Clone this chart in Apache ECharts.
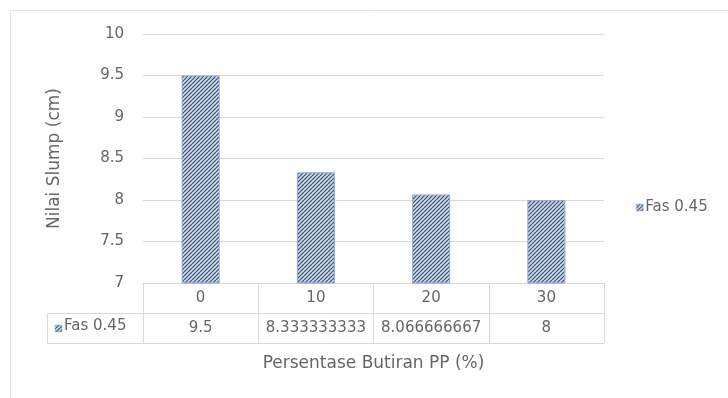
<!DOCTYPE html>
<html>
<head>
<meta charset="utf-8">
<script src="https://cdn.jsdelivr.net/npm/echarts@6/dist/echarts.min.js"></script>
<style>
  html, body { margin: 0; padding: 0; background: #ffffff; }
  #chart { width: 728px; height: 398px; }
</style>
</head>
<body>
<div id="chart"></div>
<script>
// ---- data ----
const categories = ['0', '10', '20', '30'];
const seriesName = 'Fas 0.45';
const slumpValues = [9.5, 8.333333333, 8.066666667, 8];
const yMin = 7, yMax = 10, yStep = 0.5;
const xTitle = 'Persentase Butiran PP (%)';
const yTitle = 'Nilai Slump (cm)';

// ---- hatch pattern ----
function makeHatch() {
  const c = document.createElement('canvas');
  c.width = 4; c.height = 4;
  const g = c.getContext('2d');
  g.fillStyle = '#c8d3e3';
  g.fillRect(0, 0, 4, 4);
  g.strokeStyle = '#3d5274';
  g.lineWidth = 1.15;
  for (let i = -1; i <= 1; i++) {
    g.beginPath();
    g.moveTo(i * 4, 4);
    g.lineTo(i * 4 + 4, 0);
    g.stroke();
  }
  return c;
}
const hatch = { image: makeHatch(), repeat: 'repeat' };

const FONT = 'DejaVu Sans';
const TXT = '#666666';
const LINE = '#d9d9d9';

const gridL = 143, gridR = 604, gridT = 34, gridB = 283;
const rowH = 30;

const chart = echarts.init(document.getElementById('chart'), null, { renderer: 'canvas' });

chart.setOption({
  backgroundColor: '#ffffff',
  animation: false,
  textStyle: { fontFamily: FONT, color: TXT },
  grid: { left: gridL, right: 728 - gridR, top: gridT, bottom: 398 - gridB, containLabel: false },
  legend: {
    show: true,
    left: 636, top: 200, padding: 0,
    itemWidth: 7, itemHeight: 7, itemGap: 5,
    icon: 'rect',
    textStyle: { fontFamily: FONT, fontSize: 15, color: TXT, padding: [0, 0, 0, -3] },
    data: [{ name: seriesName, itemStyle: { color: hatch, borderColor: '#8eaadb', borderWidth: 0.5 } }]
  },
  xAxis: {
    type: 'category',
    data: categories,
    boundaryGap: true,
    axisLine: { show: true, lineStyle: { color: LINE, width: 1 } },
    axisTick: { show: true, inside: false, length: rowH * 2, interval: 0, lineStyle: { color: LINE, width: 1 } },
    axisLabel: {
      interval: 0,
      margin: 0,
      formatter: function (val, idx) {
        return '{a|' + val + '}\n{b|' + String(slumpValues[idx]) + '}';
      },
      rich: {
        a: { fontFamily: FONT, fontSize: 15, color: TXT, lineHeight: rowH, height: rowH, verticalAlign: 'middle' },
        b: { fontFamily: FONT, fontSize: 15, color: TXT, lineHeight: rowH, height: rowH, verticalAlign: 'middle' }
      }
    },
    name: xTitle,
    nameLocation: 'middle',
    nameGap: 72,
    nameTextStyle: { fontFamily: FONT, fontSize: 17, color: TXT }
  },
  yAxis: {
    type: 'value',
    min: yMin, max: yMax, interval: yStep,
    axisLine: { show: false },
    axisTick: { show: false },
    splitLine: { show: true, lineStyle: { color: LINE, width: 1 } },
    axisLabel: {
      margin: 19,
      fontFamily: FONT, fontSize: 15, color: TXT,
      formatter: function (v) { return String(v); }
    },
    name: yTitle,
    nameLocation: 'middle',
    nameGap: 80,
    nameTextStyle: { fontFamily: FONT, fontSize: 17, color: TXT }
  },
  series: [{
    name: seriesName,
    type: 'bar',
    data: slumpValues,
    barWidth: '33%',
    itemStyle: { color: hatch, borderColor: '#8eaadb', borderWidth: 1 }
  }],
  graphic: [
    // chart area border
    { type: 'rect', shape: { x: 10.5, y: 10.5, width: 740, height: 400 }, style: { fill: null, stroke: '#e3e3e3', lineWidth: 1 }, silent: true, z: -1 },
    // data table lines
    { type: 'line', shape: { x1: 47.5, y1: gridB + rowH + 0.5, x2: gridR, y2: gridB + rowH + 0.5 }, style: { stroke: LINE, lineWidth: 1 }, silent: true },
    { type: 'line', shape: { x1: 47.5, y1: gridB + rowH * 2 + 0.5, x2: gridR, y2: gridB + rowH * 2 + 0.5 }, style: { stroke: LINE, lineWidth: 1 }, silent: true },
    { type: 'line', shape: { x1: 47.5, y1: gridB + rowH + 0.5, x2: 47.5, y2: gridB + rowH * 2 + 0.5 }, style: { stroke: LINE, lineWidth: 1 }, silent: true },
    // legend key in table
    { type: 'rect', shape: { x: 55, y: gridB + rowH + 12, width: 7, height: 7 }, style: { fill: hatch, stroke: '#8eaadb', lineWidth: 0.5 }, silent: true },
    { type: 'text', left: 64, top: gridB + rowH + 6, style: { text: seriesName, fontFamily: FONT, fontSize: 15, fill: TXT }, silent: true }
  ]
});
</script>
</body>
</html>
